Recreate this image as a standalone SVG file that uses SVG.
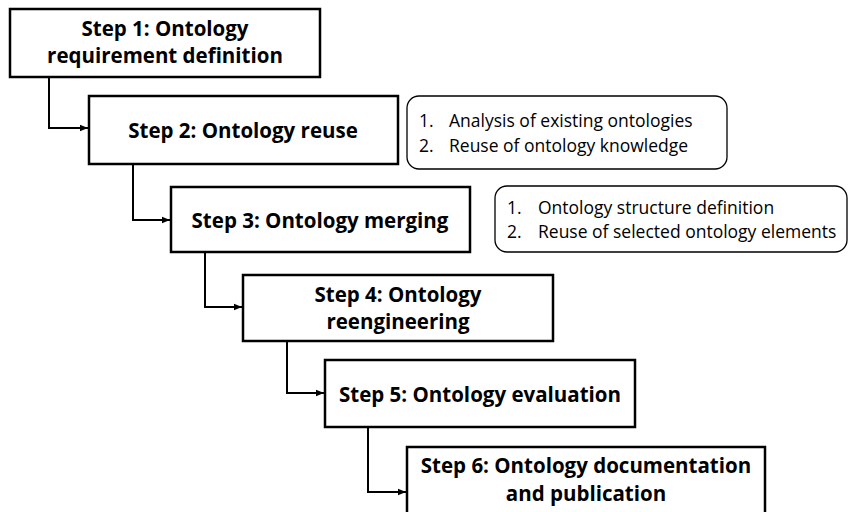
<svg xmlns="http://www.w3.org/2000/svg" width="848" height="512" viewBox="0 0 848 512">
<defs>
<style>
.box{fill:#fff;stroke:#000;stroke-width:2.5}
.info{fill:#fff;stroke:#000;stroke-width:1.3}
.t{font-family:"Open Sans","Liberation Sans",sans-serif;font-weight:bold;font-size:20.5px;text-anchor:middle;fill:#000}
.s{font-family:"Open Sans","Liberation Sans",sans-serif;font-size:17.5px;fill:#000}
.c{fill:none;stroke:#000;stroke-width:2}
</style>
<marker id="ah" viewBox="0 0 10 10" refX="10" refY="5" markerWidth="4" markerHeight="4" orient="auto" markerUnits="strokeWidth">
<path d="M0,1 L10,5 L0,9 z" fill="#000"/>
</marker>
</defs>
<g id="connectors">
<path class="c" d="M49,77 V128 H88" marker-end="url(#ah)"/>
<path class="c" d="M133,164 V220 H170" marker-end="url(#ah)"/>
<path class="c" d="M205,252 V307 H242" marker-end="url(#ah)"/>
<path class="c" d="M287,341 V393 H324" marker-end="url(#ah)"/>
<path class="c" d="M368,427 V492 H406" marker-end="url(#ah)"/>
</g>
<g id="step1">
<rect class="box" x="10" y="9" width="310" height="68"/>
<text class="t" x="165" y="36">Step 1: Ontology</text>
<text class="t" x="165" y="63">requirement definition</text>
</g>
<g id="step2">
<rect class="box" x="89" y="96" width="309" height="68"/>
<text class="t" x="243" y="138">Step 2: Ontology reuse</text>
</g>
<g id="note1">
<rect class="info" x="407" y="96" width="320" height="73" rx="12"/>
<text class="s" x="419" y="127">1.</text>
<text class="s" x="449" y="127">Analysis of existing ontologies</text>
<text class="s" x="419" y="152">2.</text>
<text class="s" x="449" y="152">Reuse of ontology knowledge</text>
</g>
<g id="step3">
<rect class="box" x="171" y="187" width="299" height="65"/>
<text class="t" x="320" y="228">Step 3: Ontology merging</text>
</g>
<g id="note2">
<rect class="info" x="495" y="186" width="352" height="66" rx="12"/>
<text class="s" x="507" y="214">1.</text>
<text class="s" x="538" y="214">Ontology structure definition</text>
<text class="s" x="507" y="238">2.</text>
<text class="s" x="538" y="238">Reuse of selected ontology elements</text>
</g>
<g id="step4">
<rect class="box" x="243" y="275" width="310" height="66"/>
<text class="t" x="398" y="302">Step 4: Ontology</text>
<text class="t" x="398" y="329">reengineering</text>
</g>
<g id="step5">
<rect class="box" x="325" y="360" width="310" height="67"/>
<text class="t" x="480" y="402">Step 5: Ontology evaluation</text>
</g>
<g id="step6">
<rect class="box" x="407" y="447" width="358" height="70"/>
<text class="t" x="586" y="473">Step 6: Ontology documentation</text>
<text class="t" x="586" y="501">and publication</text>
</g>
</svg>
